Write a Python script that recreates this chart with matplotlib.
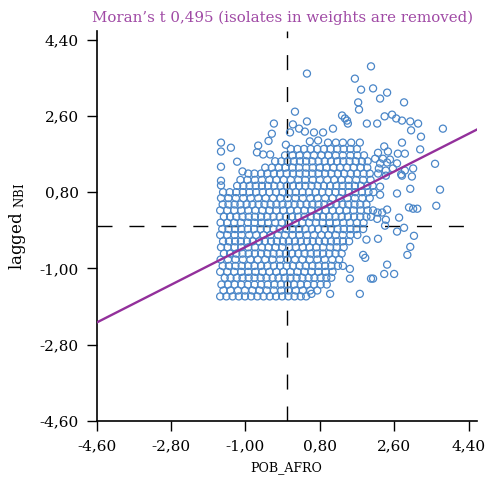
import matplotlib
matplotlib.use("Agg")
import matplotlib.pyplot as plt
import numpy as np

# Moran scatter: POB_AFRO vs lagged NBI (standardized values)
moran_i = 0.495

# dense core, read row by row (y of the row, x positions of the circles)
row_y = [-1.66, -1.52, -1.38, -1.22, -1.08, -0.94, -0.79, -0.65, -0.50, -0.36,
         -0.21, -0.07, 0.08, 0.22, 0.37, 0.51, 0.66, 0.80, 0.95, 1.09,
         1.24, 1.38, 1.53, 1.67, 1.82, 1.97]
row_x = [
    [-1.61, -1.46, -1.31, -1.16, -1.01, -0.86, -0.71, -0.56, -0.41, -0.26, -0.11, 0.04, 0.19, 0.34, 0.47],
    [-1.53, -1.36, -1.18, -1.01, -0.83, -0.66, -0.48, -0.31, -0.13, 0.04, 0.22, 0.39, 0.57, 0.74],
    [-1.58, -1.42, -1.26, -1.10, -0.94, -0.78, -0.62, -0.46, -0.30, -0.14, 0.02, 0.18, 0.34, 0.50, 0.66, 0.82, 0.97],
    [-1.50, -1.36, -1.21, -1.07, -0.92, -0.78, -0.63, -0.49, -0.34, -0.20, -0.05, 0.09, 0.24, 0.38, 0.53, 0.67, 0.82, 0.96, 1.08],
    [-1.61, -1.44, -1.27, -1.10, -0.93, -0.76, -0.59, -0.42, -0.25, -0.08, 0.09, 0.26, 0.43, 0.60, 0.77, 0.94, 1.11],
    [-1.55, -1.40, -1.24, -1.09, -0.93, -0.78, -0.62, -0.47, -0.31, -0.16, 0.00, 0.15, 0.31, 0.46, 0.62, 0.77, 0.93, 1.08, 1.24, 1.36],
    [-1.60, -1.42, -1.24, -1.06, -0.88, -0.70, -0.52, -0.34, -0.16, 0.02, 0.20, 0.38, 0.56, 0.74, 0.92, 1.10, 1.27],
    [-1.52, -1.37, -1.22, -1.07, -0.92, -0.77, -0.62, -0.47, -0.32, -0.17, -0.02, 0.13, 0.28, 0.43, 0.58, 0.73, 0.88, 1.03, 1.18, 1.33],
    [-1.59, -1.43, -1.26, -1.10, -0.93, -0.77, -0.60, -0.44, -0.27, -0.11, 0.06, 0.22, 0.39, 0.55, 0.72, 0.88, 1.05, 1.21, 1.38],
    [-1.54, -1.40, -1.25, -1.11, -0.96, -0.82, -0.67, -0.53, -0.38, -0.24, -0.09, 0.05, 0.20, 0.34, 0.49, 0.63, 0.78, 0.92, 1.07, 1.21, 1.36, 1.51],
    [-1.61, -1.44, -1.26, -1.09, -0.91, -0.74, -0.56, -0.39, -0.21, -0.04, 0.14, 0.31, 0.49, 0.66, 0.84, 1.01, 1.19, 1.36, 1.54, 1.71],
    [-1.56, -1.41, -1.25, -1.10, -0.94, -0.79, -0.63, -0.48, -0.32, -0.17, -0.01, 0.14, 0.30, 0.45, 0.61, 0.76, 0.92, 1.07, 1.23, 1.38, 1.54, 1.69, 1.85],
    [-1.60, -1.44, -1.27, -1.11, -0.94, -0.78, -0.61, -0.45, -0.28, -0.12, 0.05, 0.21, 0.38, 0.54, 0.71, 0.87, 1.04, 1.20, 1.37, 1.53, 1.70, 1.86],
    [-1.52, -1.37, -1.22, -1.07, -0.92, -0.77, -0.62, -0.47, -0.32, -0.17, -0.02, 0.13, 0.28, 0.43, 0.58, 0.73, 0.88, 1.03, 1.18, 1.33, 1.48, 1.63, 1.78, 1.93, 2.04],
    [-1.61, -1.44, -1.27, -1.10, -0.93, -0.76, -0.59, -0.42, -0.25, -0.08, 0.09, 0.26, 0.43, 0.60, 0.77, 0.94, 1.11, 1.28, 1.45, 1.62, 1.79, 1.96, 2.09],
    [-1.55, -1.41, -1.26, -1.12, -0.97, -0.83, -0.68, -0.54, -0.39, -0.25, -0.10, 0.04, 0.19, 0.33, 0.48, 0.62, 0.77, 0.91, 1.06, 1.20, 1.35, 1.49, 1.64, 1.78, 1.93],
    [-1.59, -1.41, -1.23, -1.05, -0.87, -0.69, -0.51, -0.33, -0.15, 0.03, 0.21, 0.39, 0.57, 0.75, 0.93, 1.11, 1.29, 1.47, 1.65, 1.83, 2.01],
    [-1.54, -1.38, -1.22, -1.06, -0.90, -0.74, -0.58, -0.42, -0.26, -0.10, 0.06, 0.22, 0.38, 0.54, 0.70, 0.86, 1.02, 1.18, 1.34, 1.50, 1.66, 1.82, 1.98, 2.10],
    [-1.20, -1.05, -0.90, -0.75, -0.60, -0.45, -0.30, -0.15, 0.00, 0.15, 0.30, 0.45, 0.60, 0.75, 0.90, 1.05, 1.20, 1.35, 1.50, 1.65, 1.80, 1.95, 2.08],
    [-1.12, -0.95, -0.77, -0.60, -0.42, -0.25, -0.07, 0.10, 0.28, 0.45, 0.63, 0.80, 0.98, 1.15, 1.33, 1.50, 1.68, 1.85, 2.03],
    [-0.93, -0.78, -0.62, -0.47, -0.31, -0.16, 0.00, 0.15, 0.31, 0.46, 0.62, 0.77, 0.93, 1.08, 1.24, 1.39, 1.55, 1.70, 1.86, 2.01],
    [-0.52, -0.36, -0.19, -0.03, 0.14, 0.30, 0.47, 0.63, 0.80, 0.96, 1.13, 1.29, 1.46, 1.62, 1.79, 1.95],
    [-0.28, -0.13, 0.02, 0.17, 0.32, 0.47, 0.62, 0.77, 0.92, 1.07, 1.22, 1.37, 1.52, 1.67, 1.82, 1.96],
    [-0.04, 0.14, 0.31, 0.49, 0.66, 0.84, 1.01, 1.19, 1.36, 1.54, 1.71, 1.87],
    [0.10, 0.26, 0.42, 0.58, 0.74, 0.90, 1.06, 1.22, 1.38, 1.54, 1.70],
    [1.00, 1.19, 1.36, 1.56, 1.77],
]

# scattered points outside the core
out_x = [0.49, 2.04, 1.65, 1.80, 2.09, 2.43, 2.26, 1.73, 1.75, 2.84,
         0.20, 1.34, 1.41, 1.46, 1.48, 1.12, 1.94, 2.19, 2.37, 2.55,
         2.65, 2.79, 2.99, 3.18, 3.01, 3.78, 3.25, 2.79, 3.23, 2.69,
         2.86, 2.36, 3.59, 3.06, 2.79, 3.03, 2.21, 2.45, 2.33, 2.50,
         2.26, 2.43, 2.67, 2.14, 2.57, 2.40, 2.23, 2.86, 2.77, 2.21,
         2.40, 2.26, 2.67, 2.99, 3.71, 2.26, 2.96, 3.06, 3.16, 3.62,
         2.43, 2.20, 2.31, 2.19, 2.40, 2.38, 2.72, 2.67, 2.84, 2.21,
         3.08, 2.99, 2.92, 2.43, 2.36, 2.60, 2.09, 1.93, 1.85, 1.90,
         1.53, 1.53, 2.04, 0.60, 1.05, 1.77, -0.31, -0.36, 0.15, 0.30,
         0.08, 0.44, 0.66, 0.88, 0.49, -0.44, -0.69, -0.72, -0.57, -0.40,
         -1.20, -1.35, -1.59, -1.59, -1.59, -1.59, -1.59, -0.02, 0.56, 0.76,
         -1.07]
out_y = [3.60, 3.77, 3.48, 3.22, 3.25, 3.15, 3.01, 2.92, 2.75, 2.92,
         2.70, 2.61, 2.54, 2.49, 2.42, 2.30, 2.42, 2.42, 2.59, 2.63,
         2.54, 2.49, 2.47, 2.42, 2.26, 2.30, 2.11, 1.97, 1.81, 1.71,
         1.71, 1.88, 1.47, 1.36, 1.19, 1.17, 1.73, 1.76, 1.59, 1.57,
         1.48, 1.50, 1.48, 1.59, 1.36, 1.31, 1.36, 1.31, 1.22, 1.24,
         1.19, 0.93, 0.77, 0.88, 0.86, 0.74, 0.44, 0.41, 0.41, 0.48,
         0.39, 0.32, 0.32, 0.17, 0.15, 0.01, 0.20, -0.13, -0.04, -0.30,
         -0.23, -0.49, -0.68, -0.91, -1.13, -1.13, -1.24, -0.32, -0.68, -0.75,
         -1.01, -1.24, -1.24, -1.60, -1.60, -1.60, 2.42, 2.18, 2.40, 2.30,
         2.21, 2.23, 2.21, 2.21, 2.47, 2.01, 1.90, 1.74, 1.69, 1.69,
         1.52, 1.85, 1.97, 1.76, 1.40, 1.07, 0.96, 1.92, 2.00, 2.02,
         1.29]

tick_vals = [-4.6, -2.8, -1.0, 0.8, 2.6, 4.4]
tick_labels = ["-4,60", "-2,80", "-1,00", "0,80", "2,60", "4,40"]

xs, ys = [], []
for y, row in zip(row_y, row_x):
    xs += row
    ys += [y] * len(row)
xs += out_x
ys += out_y

plt.rcParams["font.family"] = ["DejaVu Serif"]

fig = plt.figure(figsize=(4.88, 4.8), dpi=100)
ax = fig.add_axes([0.198, 0.123, 0.779, 0.812])

ax.axhline(0, color="black", lw=1.0, ls=(0, (10.8, 12.2)), zorder=1)
ax.axvline(0, color="black", lw=1.0, ls=(0, (10.8, 12.2)), zorder=1)

ax.scatter(xs, ys, s=26, facecolors="none", edgecolors="#4a86c8", linewidths=0.9, zorder=2)

line_x = np.array([-4.6, 4.6])
ax.plot(line_x, moran_i * line_x, color="#93309b", lw=1.7, zorder=3)

ax.set_xlim(-4.6, 4.6)
ax.set_ylim(-4.6, 4.6)
ax.set_xticks(tick_vals)
ax.set_xticklabels(tick_labels)
ax.set_yticks(tick_vals)
ax.set_yticklabels(tick_labels)
ax.tick_params(length=7, width=1, labelsize=11, pad=6)

for side in ["top", "right"]:
    ax.spines[side].set_visible(False)
for side in ["left", "bottom"]:
    ax.spines[side].set_linewidth(1.2)

ax.set_xlabel("POB_AFRO", fontsize=9, labelpad=6)
ax.set_ylabel(r"lagged $\mathregular{_{NBI}}$", fontsize=12, labelpad=8)
fig.text(0.578, 0.963, "Moran\u2019s t 0,495 (isolates in weights are removed)",
         color="#a04aa5", fontsize=10.8, ha="center", va="center")

fig.savefig("out.png", dpi=100)
